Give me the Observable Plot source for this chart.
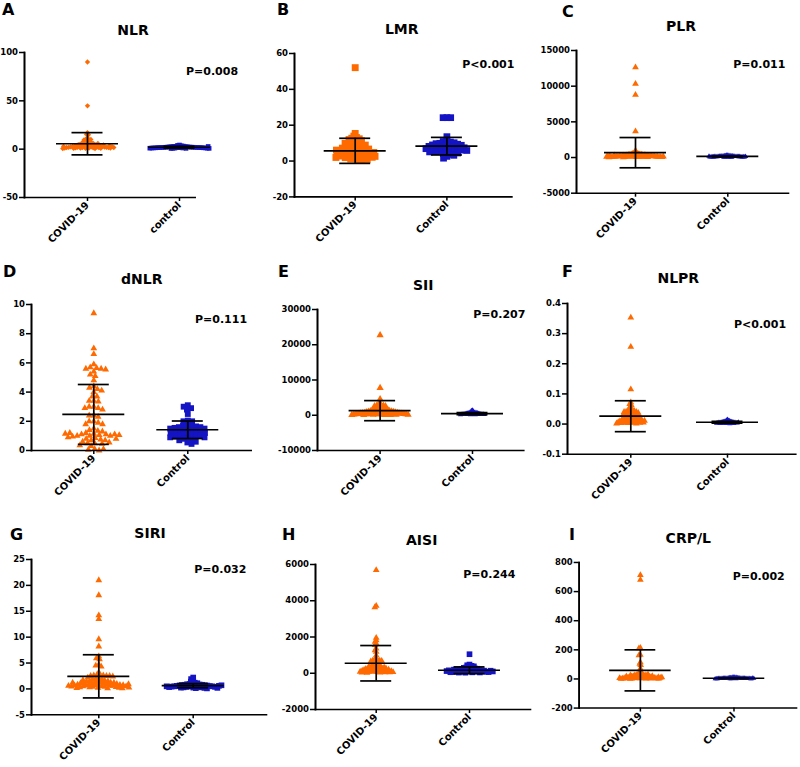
<!DOCTYPE html>
<html><head><meta charset="utf-8">
<script src="https://cdn.jsdelivr.net/npm/d3@7"></script>
<script src="https://cdn.jsdelivr.net/npm/@observablehq/plot@0.6"></script>
<style>
html,body{margin:0;padding:0;background:#fff;}
#root{position:relative;width:800px;height:767px;overflow:hidden;font-family:"DejaVu Sans",sans-serif;}
.panel{position:absolute;}
.panel svg{overflow:visible;}
#overlay{position:absolute;left:0;top:0;pointer-events:none;}
</style></head><body><div id="root"></div>
<script>
// ---------------- data ----------------
const panelLetters = ["A","B","C","D","E","F","G","H","I"];
const titles = ["NLR","LMR","PLR","dNLR","SII","NLPR","SIRI","AISI","CRP/L"];
const pValues = ["P=0.008","P<0.001","P=0.011","P=0.111","P=0.207","P<0.001","P=0.032","P=0.244","P=0.002"];
const covidLabel = "COVID-19";
const controlLabels = ["control","Control","Control","Control","Control","Control","Control","Control","Control"];
const yDomains = [[-50,100],[-20,60],[-5000,15000],[0,10],[-10000,30000],[-0.1,0.4],[-5,25],[-2000,6000],[-200,800]];
const yTicks = [
  [-50,0,50,100],[-20,0,20,40,60],[-5000,0,5000,10000,15000],[0,2,4,6,8,10],
  [-10000,0,10000,20000,30000],[-0.1,0,0.1,0.2,0.3,0.4],[-5,0,5,10,15,20,25],
  [-2000,0,2000,4000,6000],[-200,0,200,400,600,800]];
const meanCovid   = [5.6, 5.7, 680, 2.47, 1300, 0.026, 2.43, 552, 59];
const sdCovid     = [11.5, 7.0, 2120, 2.05, 2850, 0.0513, 4.17, 977, 141];
const meanControl = [2.0, 8.3, 150, 1.42, 450, 0.006, 0.62, 165, 5];
const sdControl   = [1.0, 4.9, 60, 0.6, 300, 0.003, 0.4, 185, 3];

const covidNLR = [90.2,44.8,17.1,15.3,14.9,11.4,10.3,9.9,10.1,9.5,8.6,8.1,7.6,7.3,6.8,6.7,6.2,6.0,5.7,5.5,5.2,5.1,4.8,4.7,4.5,4.3,4.2,4.0,3.9,3.7,3.6,3.5,3.3,3.2,3.1,3.0,2.8,2.8,2.7,2.6,2.5,2.4,2.3,2.2,2.1,2.0,1.9,1.9,1.8,1.7,1.6,1.5,1.5,1.4,1.3,1.2,1.2,1.1,1.0,0.9,0.9,0.8,0.7,0.6,5.9,3.4,2.5,4.4,1.7,2.9];
const controlNLR = [4.3,3.9,3.5,3.2,3.0,2.9,2.7,2.6,2.5,2.4,2.3,2.2,2.2,2.1,2.0,2.0,1.9,1.9,1.8,1.8,1.7,1.7,1.6,1.6,1.5,1.5,1.4,1.4,1.3,1.3,1.2,1.2,1.1,1.0,1.0,0.9,0.8,0.8,0.7,2.8];
const covidLMR = [52.1,15.4,13.9,13.1,12.7,12.4,12.0,11.6,11.3,10.8,10.4,10.1,9.7,9.5,9.1,8.8,8.6,8.3,8.0,7.8,7.5,7.3,7.1,6.8,6.6,6.4,6.2,6.0,5.8,5.6,5.4,5.3,5.1,4.9,4.7,4.6,4.4,4.2,4.1,3.9,3.7,3.6,3.4,3.3,3.1,3.0,2.8,2.7,2.5,2.4,2.2,2.1,1.9,1.7,1.5,1.3,1.1,0.9,0.6,0.3,5.5,6.7,4.8,3.5,7.2,2.6,8.9,9.9,2.0,6.1];
const controlLMR = [24.2,24.2,24.2,13.6,11.4,10.9,10.6,10.2,9.9,9.7,9.4,9.2,9.0,8.8,8.6,8.4,8.2,8.0,7.8,7.6,7.4,7.2,7.0,6.9,6.7,6.5,6.3,6.1,5.9,5.7,5.5,5.3,5.1,4.8,4.5,4.1,3.7,3.2,2.6,1.6];
const covidPLR = [12640,10320,8780,3680,980,612,575,548,503,471,452,437,418,396,381,372,350,338,331,317,306,297,284,279,268,259,253,241,236,228,219,214,207,199,193,188,179,176,169,163,158,151,147,141,139,132,127,121,117,112,108,101,97,93,88,84,79,73,69,64,61,57,52,47,43,245,186,133,96,310];
const controlPLR = [312,286,263,244,231,219,208,197,189,181,174,168,161,155,149,144,139,134,129,124,120,116,112,108,104,100,96,92,88,84,80,76,72,68,63,58,52,46,142,171];
const covidDNLR = [9.4,7.0,6.6,5.9,5.7,5.65,5.6,5.6,5.55,5.4,5.2,5.1,4.8,4.4,4.3,4.2,4.1,4.0,3.7,3.7,3.4,3.4,3.35,3.0,3.0,2.9,2.9,2.8,2.4,2.4,2.3,2.0,2.0,1.9,1.8,1.8,1.5,1.4,1.35,1.3,1.2,1.15,1.1,1.1,1.05,1.0,1.0,1.0,1.1,0.95,1.05,1.2,0.9,1.15,0.85,0.8,0.75,0.7,0.8,0.7,0.6,0.5,0.5,0.55,0.45,0.35,0.3,0.1,0.05,0.0,0.1];
const controlDNLR = [3.1,3.0,2.9,2.8,2.5,2.05,2.0,2.0,1.75,1.7,1.7,1.65,1.6,1.6,1.55,1.5,1.5,1.45,1.4,1.4,1.35,1.3,1.3,1.25,1.2,1.2,1.15,1.1,1.1,1.05,1.0,1.0,0.95,0.9,0.9,0.85,0.8,0.75,0.7,0.6,0.55,0.45];
const covidSII = [22700,7750,4540,3300,2980,2820,2710,2640,2600,2560,2380,2210,2090,1970,1880,1790,1720,1640,1570,1520,1460,1390,1340,1290,1250,1200,1150,1110,1070,1030,990,960,920,890,850,820,790,760,730,700,680,650,630,600,580,550,530,510,490,470,450,430,410,390,370,350,330,310,290,270,250,230,210,190,170,150,130,110,90,70];
const controlSII = [1450,1310,1160,990,910,850,800,760,720,690,660,630,600,575,550,525,500,480,460,440,420,400,385,370,355,340,325,310,295,280,265,250,235,220,205,190,175,160,140,120];
const covidNLPR = [0.353,0.256,0.115,0.072,0.066,0.062,0.057,0.052,0.048,0.046,0.044,0.043,0.042,0.041,0.040,0.040,0.039,0.038,0.037,0.036,0.035,0.034,0.033,0.032,0.031,0.030,0.029,0.028,0.027,0.026,0.025,0.024,0.023,0.022,0.021,0.020,0.019,0.018,0.017,0.016,0.016,0.015,0.014,0.014,0.013,0.012,0.012,0.011,0.010,0.010,0.009,0.009,0.008,0.008,0.007,0.007,0.006,0.006,0.005,0.005,0.004,0.004,0.003,0.003,0.002,0.002,0.011,0.018,0.025,0.031];
const controlNLPR = [0.015,0.013,0.012,0.011,0.010,0.0095,0.009,0.0085,0.008,0.008,0.0075,0.007,0.007,0.0065,0.0065,0.006,0.006,0.0055,0.0055,0.005,0.005,0.005,0.0045,0.0045,0.004,0.004,0.004,0.0035,0.0035,0.003,0.003,0.003,0.0025,0.0025,0.002,0.002,0.0015,0.0015,0.001,0.006];
const covidSIRI = [21.0,18.1,14.2,13.5,9.6,8.2,6.3,5.9,5.7,4.7,4.5,4.3,3.2,2.7,2.6,2.6,2.6,2.5,2.5,2.5,2.0,1.9,1.9,1.8,1.6,1.5,1.5,1.4,1.4,1.3,1.3,1.2,1.2,1.1,1.1,1.0,1.0,0.95,0.9,0.9,0.85,0.8,0.8,0.75,0.7,0.7,0.65,0.6,0.6,0.55,0.5,0.5,0.45,0.4,0.4,0.35,0.3,0.3,0.25,0.2,0.2,0.15,0.1,0.1,1.7,2.2,2.4,0.6,0.9,1.2];
const controlSIRI = [2.2,1.9,1.6,1.4,1.2,1.1,1.0,0.95,0.9,0.85,0.8,0.8,0.75,0.7,0.7,0.65,0.65,0.6,0.6,0.55,0.55,0.5,0.5,0.45,0.45,0.4,0.4,0.35,0.35,0.3,0.3,0.25,0.25,0.2,0.2,0.15,0.1,0.6,0.5,0.7];
const covidAISI = [5690,3720,3640,1950,1820,1730,1640,1550,1360,1270,1180,990,790,740,720,700,690,680,660,650,560,520,480,450,430,410,390,370,350,330,310,295,280,265,250,238,226,214,202,190,180,170,160,150,140,130,122,114,106,98,90,82,75,68,61,54,47,40,33,26,320,240,185,145,110,85,60,380,270,200];
const controlAISI = [1050,480,440,410,380,350,320,300,280,262,248,234,220,208,196,184,172,162,152,142,132,124,116,108,100,92,85,78,71,64,57,50,44,38,32,160,140,120,100,200];
const covidCRPL = [714,680,214,210,166,162,114,104,95,72,55,45,38,35,31,29,28,27,26,25,24,23,22,21,20,19,18,18,17,16,15,15,14,13,13,12,12,11,10,10,9,9,8,8,7,7,6,6,5,5,5,4,4,4,3,3,3,2,2,2,1,1,30,20,12,8,17,24,6,11];
const controlCRPL = [14,12,11,10,9,9,8,8,7,7,7,6,6,6,6,5,5,5,5,5,4,4,4,4,4,3,3,3,3,3,2,2,2,2,1.5,1.5,1,1,6,4];

const covidSeries = [covidNLR, covidLMR, covidPLR, covidDNLR, covidSII, covidNLPR, covidSIRI, covidAISI, covidCRPL];
const controlSeries = [controlNLR, controlLMR, controlPLR, controlDNLR, controlSII, controlNLPR, controlSIRI, controlAISI, controlCRPL];

// ---------------- layout & style ----------------
// y-axis x, frame top, frame bottom, x-axis end, COVID centre, control centre
const layout = [
  [24.3, 51.7, 196.7, 195, 87.3, 179.3],
  [294.3, 53.3, 196.7, 511.7, 355, 446.7],
  [576, 50, 192.7, 788, 635, 727.3],
  [31, 304, 450, 250.7, 93.3, 187.3],
  [316.7, 309, 450, 523, 379.3, 471.7],
  [566.7, 303.3, 454, 795, 630, 726.7],
  [31, 559, 714.3, 266, 98.3, 192.7],
  [315, 564.3, 709.3, 530, 375.7, 469],
  [579, 562.3, 709, 798, 640.7, 735]
];
const letterPos = [[2,15],[277,15],[562,16.5],[3,276.5],[278,276.5],[562,276.5],[10,540],[282,540],[569,540]];
const titlePos = [[133,35],[401.7,33.5],[681,31],[141.7,284],[423.3,290],[678.3,283.3],[150,538.3],[421.7,544.5],[688.3,543.3]];
const pPos = [[186,75],[462.3,68.3],[733.3,68.3],[195,323.3],[473.3,318.3],[734,328.3],[194.3,573.3],[463.3,578.3],[732.7,580]];
const orange = "#ff6a00", blue = "#1414c4";
const covidSymbol = ["diamond2","square","triangle","triangle","triangle","triangle","triangle","triangle","triangle"];
const controlSymbol = ["square","square","triangle","square","triangle","triangle","square","square","triangle"];
const drawR = [[2.4,2.6],[3.9,3.8],[2.5,2.0],[2.5,3.3],[2.7,1.9],[2.5,1.9],[2.5,3.2],[2.5,3.2],[2.5,1.9]];
const collideR = [[1.0,1.0],[1.5,1.9],[0.75,0.6],[2.3,2.2],[1.05,0.6],[1.05,0.6],[1.6,1.3],[1.0,1.2],[0.8,0.6]];

const root = document.getElementById("root");
const ML = 48, MR = 4, MT = 4, MB = 64;
// a plain vertical segment drawn upward from its anchor point
const axisLineShape = {draw(context, l) { context.moveTo(0, 0); context.lineTo(0, -l); }};

// mode "wide": facets start at the y axis (overlapping bands), so axis line and ticks sit at the axis.
// mode "plain": non-overlapping bands, used only if the first layout does not come out as expected.
function buildPlot(i, mode) {
  const [ax, yTop, yBot, xEnd, cCov, cCtl] = layout[i];
  const left = ax - ML;
  const width = ML + (xEnd - ax) + MR;
  const height = MT + (yBot - yTop) + MB;
  const frameH = yBot - yTop;
  const s = cCtl - cCov;
  let rangeStart, bw, pInner;
  if (mode === "wide") { rangeStart = ax; bw = 2 * (cCov - ax); pInner = 1 - bw / s; }
  else { rangeStart = cCov - s / 2; bw = s; pInner = 0; }
  const rangeEnd = rangeStart + s + bw;
  const endInset = rangeEnd - xEnd;
  const groups = [covidLabel, controlLabels[i]];
  const series = [covidSeries[i], controlSeries[i]];
  const means = [meanCovid[i], meanControl[i]];
  const sds = [sdCovid[i], sdControl[i]];
  const stats = groups.map((g, k) => ({group: g, mean: means[k], lo: means[k] - sds[k], hi: means[k] + sds[k]}));
  const axisBase = [{group: groups[0], y: yDomains[i][0]}];
  const fmt = i === 5 ? d => d.toFixed(1) : d => String(d);
  const dots = groups.map((g, k) => Plot.dot(
    series[k].map(v => ({group: g, value: v})),
    Plot.dodgeX({anchor: "middle", padding: 0, r: collideR[i][k]},
      {fx: "group", y: "value", fill: "group", symbol: "group", r: drawR[i][k]})));
  const lineW = 1.7;
  const plot = Plot.plot({
    width, height, marginLeft: ML, marginRight: MR, marginTop: MT, marginBottom: MB,
    style: {background: "transparent", overflow: "visible", color: "black", fontFamily: "'DejaVu Sans', sans-serif", fontWeight: "bold"},
    fx: {domain: groups, range: [rangeStart - left, rangeEnd - left], paddingInner: pInner, paddingOuter: 0, align: 0.5, round: false},
    y: {domain: yDomains[i]},
    color: {domain: groups, range: [orange, blue]},
    symbol: {domain: groups, range: [covidSymbol[i], controlSymbol[i]]},
    marks: [
      ...dots,
      Plot.ruleY(stats, {fx: "group", y: "mean", insetLeft: bw / 2 - 31, insetRight: bw / 2 - 31, strokeWidth: lineW}),
      Plot.ruleY(stats, {fx: "group", y: "hi", insetLeft: bw / 2 - 15.5, insetRight: bw / 2 - 15.5, strokeWidth: lineW}),
      Plot.ruleY(stats, {fx: "group", y: "lo", insetLeft: bw / 2 - 15.5, insetRight: bw / 2 - 15.5, strokeWidth: lineW}),
      Plot.ruleX(stats, {fx: "group", x: null, y1: "lo", y2: "hi", strokeWidth: lineW}),
      Plot.frame({facet: "super", anchor: "left", strokeWidth: 1.6}),
      // y-axis line drawn the same way as the axis ticks: a vector anchored on the frame's left side
      Plot.vector(axisBase, {fx: "group", y: "y", frameAnchor: "left", length: frameH, rotate: 0, anchor: "start",
        shape: axisLineShape, stroke: "black", strokeWidth: 1.6, strokeLinecap: "square"}),
      Plot.frame({facet: "super", anchor: "bottom", insetRight: endInset, strokeWidth: 1.6}),
      Plot.axisY(yTicks[i], {tickFormat: fmt, tickSize: 5, tickPadding: 1.5, label: null, fontSize: 8.5, strokeWidth: 1.5}),
      Plot.axisFx({anchor: "bottom", tickRotate: -45, tickSize: 4, tickPadding: 2, label: null, fontSize: 10, strokeWidth: 1.5})
    ]
  });
  // verify the facet layout
  let ok = true;
  try {
    const fxs = plot.scale("fx");
    if (fxs && typeof fxs.apply === "function") {
      ok = Math.abs(fxs.apply(covidLabel) - (rangeStart - left)) < 0.6 && Math.abs(fxs.bandwidth - bw) < 0.6;
    }
  } catch (e) { ok = true; }
  return {plot, ok, left, top: yTop - MT};
}

function makePanel(i) {
  let res = null;
  try { res = buildPlot(i, "wide"); } catch (e) { res = null; }
  if (!res || !res.ok) res = buildPlot(i, "plain");
  const div = document.createElement("div");
  div.className = "panel";
  div.style.left = res.left + "px";
  div.style.top = res.top + "px";
  div.appendChild(res.plot);
  root.appendChild(div);
}

for (let i = 0; i < 9; i++) makePanel(i);

// titles, panel letters and p-values
const overlay = d3.select(root).append("svg").attr("id", "overlay")
  .attr("width", 800).attr("height", 767)
  .style("font-family", "'DejaVu Sans', sans-serif").style("font-weight", "bold");
overlay.selectAll("text.letter").data(panelLetters).join("text").attr("class", "letter")
  .attr("x", (d, i) => letterPos[i][0]).attr("y", (d, i) => letterPos[i][1])
  .attr("font-size", 16).text(d => d);
overlay.selectAll("text.title").data(titles).join("text").attr("class", "title")
  .attr("x", (d, i) => titlePos[i][0]).attr("y", (d, i) => titlePos[i][1])
  .attr("text-anchor", "middle").attr("font-size", 14).text(d => d);
overlay.selectAll("text.pval").data(pValues).join("text").attr("class", "pval")
  .attr("x", (d, i) => pPos[i][0]).attr("y", (d, i) => pPos[i][1])
  .attr("font-size", 11).text(d => d);
</script></body></html>
